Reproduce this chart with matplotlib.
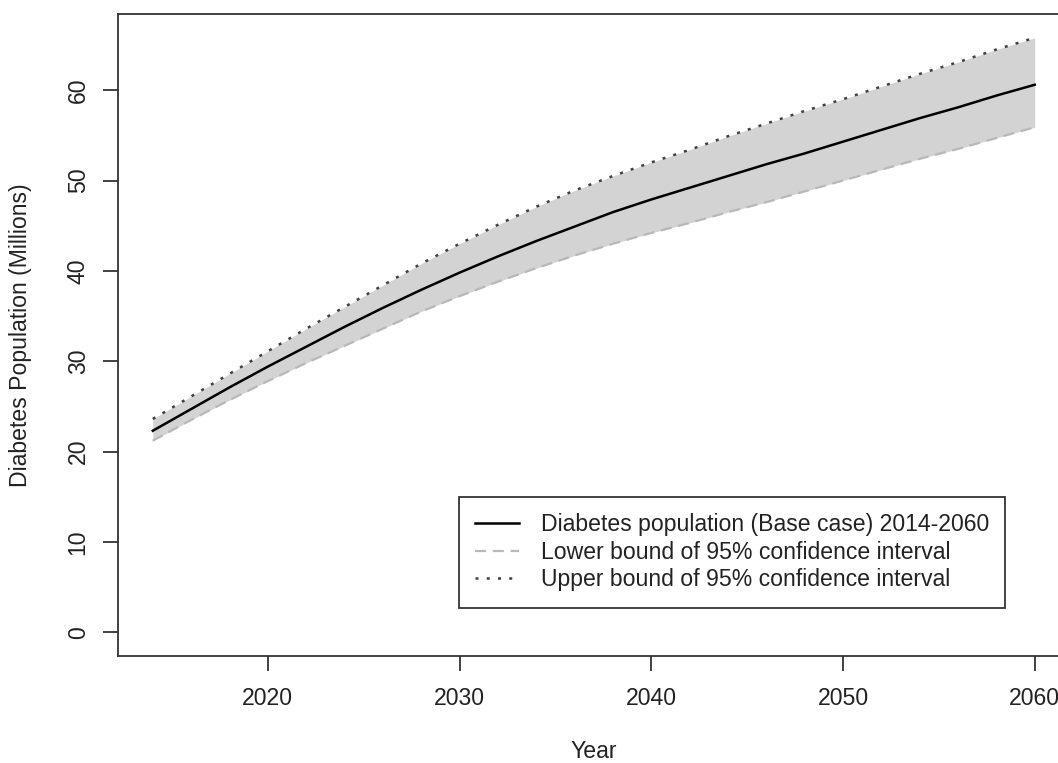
import matplotlib
matplotlib.use("Agg")
import matplotlib.pyplot as plt

# ---- data ----
years = [2014, 2016, 2018, 2020, 2022, 2024, 2026, 2028, 2030, 2032, 2034, 2036,
         2038, 2040, 2042, 2044, 2046, 2048, 2050, 2052, 2054, 2056, 2058, 2060]
base_case = [22.3, 24.7, 27.1, 29.4, 31.6, 33.8, 35.9, 37.9, 39.8, 41.6, 43.3, 44.9,
             46.5, 47.9, 49.2, 50.5, 51.8, 53.0, 54.3, 55.6, 56.9, 58.1, 59.4, 60.6]
lower_ci = [21.2, 23.5, 25.7, 27.8, 29.8, 31.7, 33.6, 35.5, 37.2, 38.8, 40.3, 41.7,
            43.0, 44.2, 45.3, 46.5, 47.6, 48.8, 50.0, 51.2, 52.4, 53.5, 54.7, 55.9]
upper_ci = [23.6, 26.1, 28.6, 31.1, 33.6, 36.0, 38.4, 40.8, 43.0, 45.1, 47.1, 48.9,
            50.5, 52.0, 53.4, 54.9, 56.3, 57.7, 59.0, 60.4, 61.8, 63.1, 64.5, 65.8]
x_ticks = [2020, 2030, 2040, 2050, 2060]
y_ticks = [0, 10, 20, 30, 40, 50, 60]
legend_labels = ["Diabetes population (Base case) 2014-2060",
                 "Lower bound of 95% confidence interval",
                 "Upper bound of 95% confidence interval"]

plt.rcParams['font.family'] = ['Liberation Sans', 'DejaVu Sans']
FS = 16.6
TXT = '#222222'

W, H = 1058, 763
fig = plt.figure(figsize=(W / 100, H / 100), dpi=100)
L, R, T, B = 117.5, 1070, 14, 656
ax = fig.add_axes([L / W, 1 - B / H, (R - L) / W, (B - T) / H])

ax.fill_between(years, lower_ci, upper_ci, color='#d3d3d3', linewidth=0, zorder=1)
ax.plot(years, base_case, color='black', lw=1.8, zorder=3, label=legend_labels[0])
ax.plot(years, lower_ci, color='#b8b8b8', lw=1.6, linestyle=(0, (5, 3)), zorder=2,
        label=legend_labels[1])
ax.plot(years, upper_ci, color='#404040', lw=1.8, linestyle=(0, (1.2, 3.3)), zorder=2,
        label=legend_labels[2])

x0, x1 = min(years), max(years)
pad_x = 0.04 * (x1 - x0)
ax.set_xlim(x0 - pad_x, x1 + pad_x)
y0, y1 = 0, max(upper_ci)
pad_y = 0.04 * (y1 - y0)
ax.set_ylim(y0 - pad_y, y1 + pad_y)

ax.set_xticks(x_ticks)
ax.set_yticks(y_ticks)
for s in ax.spines.values():
    s.set_linewidth(1.3)
    s.set_color('#333333')
ax.tick_params(axis='both', direction='out', length=10.5, width=1.3, color='#333333',
               labelsize=FS, labelcolor=TXT)
ax.tick_params(axis='x', pad=11.5)
ax.tick_params(axis='y', pad=9.5, labelrotation=90)
for lab in ax.get_yticklabels():
    lab.set_va('center')

ax.set_xlabel('Year', fontsize=FS, color=TXT, va='center')
ax.xaxis.set_label_coords(0.5, (B - 751) / (B - T))
ax.set_ylabel('Diabetes Population (Millions)', fontsize=FS, color=TXT, va='center')
ax.yaxis.set_label_coords((21 - L) / (R - L), 0.5)

leg = ax.legend(loc='upper left', bbox_to_anchor=((459 - L) / (R - L), (B - 497) / (B - T)),
                borderaxespad=0, fontsize=FS, frameon=True, fancybox=False,
                edgecolor='#333333', framealpha=1, handlelength=1.9, handletextpad=0.95,
                borderpad=0.7, labelspacing=0.2)
leg.get_frame().set_linewidth(1.3)
for t in leg.get_texts():
    t.set_color(TXT)

fig.savefig('out.png', dpi=100)
